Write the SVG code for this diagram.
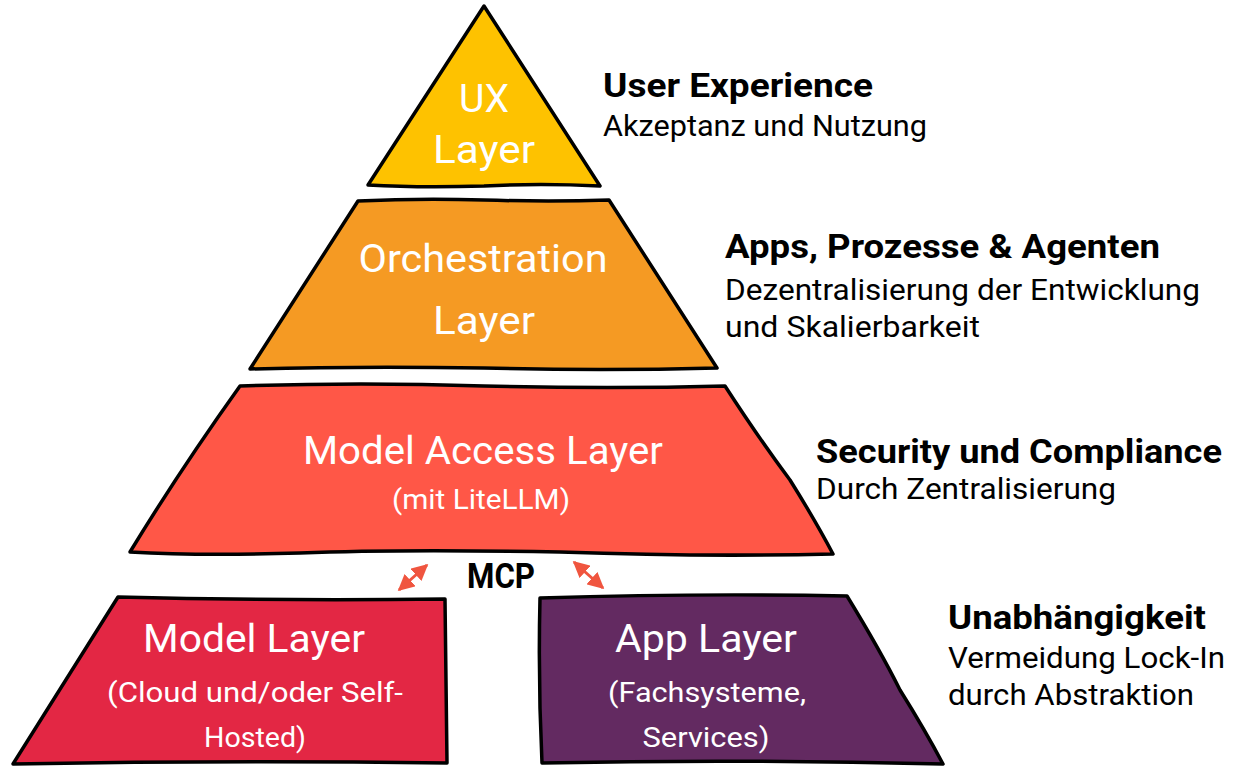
<svg xmlns="http://www.w3.org/2000/svg" width="1243" height="767" viewBox="0 0 1243 767">
<defs>
<style>
.shape{stroke:#000;stroke-width:3.5;stroke-linejoin:round;stroke-linecap:round}
.in{font-family:Roboto,"Noto Sans","Liberation Sans",sans-serif;fill:#fff;text-anchor:middle}
.h{font-family:Roboto,"Noto Sans","Liberation Sans",sans-serif;font-weight:bold;font-size:33px;fill:#000}
.s{font-family:Roboto,"Noto Sans","Liberation Sans",sans-serif;font-size:29px;fill:#000}
.big{font-size:39px}
.sm{font-size:27px}
.conn{stroke:#F0553F;stroke-width:3;fill:none}
</style>
<marker id="ah" viewBox="0 0 10 10" refX="9" refY="5" markerWidth="5.5" markerHeight="5.5" orient="auto-start-reverse" markerUnits="strokeWidth">
<path d="M0,0 L10,5 L0,10 Z" fill="#F0553F"/>
</marker>
</defs>
<rect width="1243" height="767" fill="#fff"/>

<g id="ux-layer">
<path class="shape" fill="#FEC200" d="M484,6 L600,186 Q540,183 484,186 Q420,188 368,185 Z"/>
<text class="in big" x="484" y="112" textLength="50" lengthAdjust="spacingAndGlyphs">UX</text>
<text class="in big" x="484" y="163" textLength="102" lengthAdjust="spacingAndGlyphs">Layer</text>
</g>

<g id="orchestration-layer">
<path class="shape" fill="#F59A23" d="M358,201 Q420,198 484,200 Q550,202 609,200 L717,368 Q600,371 484,368 Q360,366 250,369 Z"/>
<text class="in big" x="483" y="272" textLength="249" lengthAdjust="spacingAndGlyphs">Orchestration</text>
<text class="in big" x="484" y="334" textLength="102" lengthAdjust="spacingAndGlyphs">Layer</text>
</g>

<g id="model-access-layer">
<path class="shape" fill="#FF5747" d="M240,386 Q360,382 484,386 Q610,389 725,386 Q760,440 790,480 Q815,520 833,554 Q700,557 560,552 Q400,549 300,553 Q200,556 130,552 Q180,470 240,386 Z"/>
<text class="in big" x="483" y="464" textLength="360" lengthAdjust="spacingAndGlyphs">Model Access Layer</text>
<text class="in sm" x="481" y="509" textLength="178" lengthAdjust="spacingAndGlyphs">(mit LiteLLM)</text>
</g>

<g id="model-layer">
<path class="shape" fill="#E32744" d="M118,597 Q280,601 445,599 Q446,680 447,763 Q230,760 13,764 Z"/>
<text class="in big" x="254" y="652" textLength="222" lengthAdjust="spacingAndGlyphs">Model Layer</text>
<text class="in sm" x="255" y="702" textLength="296" lengthAdjust="spacingAndGlyphs">(Cloud und/oder Self-</text>
<text class="in sm" x="255" y="747" textLength="102" lengthAdjust="spacingAndGlyphs">Hosted)</text>
</g>

<g id="app-layer">
<path class="shape" fill="#632A61" d="M540,598 Q700,593 847,596 Q880,650 900,690 Q925,730 943,764 Q740,759 542,763 Q538,680 540,598 Z"/>
<text class="in big" x="706" y="652" textLength="182" lengthAdjust="spacingAndGlyphs">App Layer</text>
<text class="in sm" x="707" y="702" textLength="198" lengthAdjust="spacingAndGlyphs">(Fachsysteme,</text>
<text class="in sm" x="706" y="747" textLength="127" lengthAdjust="spacingAndGlyphs">Services)</text>
</g>

<g id="connectors">
<line class="conn" x1="399" y1="590" x2="427" y2="565" marker-start="url(#ah)" marker-end="url(#ah)"/>
<line class="conn" x1="574" y1="562" x2="603" y2="588" marker-start="url(#ah)" marker-end="url(#ah)"/>
<text class="h" x="501" y="588" text-anchor="middle" textLength="68" lengthAdjust="spacingAndGlyphs" style="font-size:35px">MCP</text>
</g>

<g id="descriptions">
<text class="h" x="603" y="97" textLength="270" lengthAdjust="spacingAndGlyphs">User Experience</text>
<text class="s" x="603" y="136" textLength="324" lengthAdjust="spacingAndGlyphs">Akzeptanz und Nutzung</text>
<text class="h" x="725" y="258" textLength="435" lengthAdjust="spacingAndGlyphs">Apps, Prozesse &amp; Agenten</text>
<text class="s" x="725" y="300" textLength="475" lengthAdjust="spacingAndGlyphs">Dezentralisierung der Entwicklung</text>
<text class="s" x="725" y="337" textLength="255" lengthAdjust="spacingAndGlyphs">und Skalierbarkeit</text>
<text class="h" x="816" y="463" textLength="406" lengthAdjust="spacingAndGlyphs">Security und Compliance</text>
<text class="s" x="816" y="499" textLength="300" lengthAdjust="spacingAndGlyphs">Durch Zentralisierung</text>
<text class="h" x="948" y="629" textLength="258" lengthAdjust="spacingAndGlyphs">Unabhängigkeit</text>
<text class="s" x="948" y="668" textLength="277" lengthAdjust="spacingAndGlyphs">Vermeidung Lock-In</text>
<text class="s" x="948" y="705" textLength="246" lengthAdjust="spacingAndGlyphs">durch Abstraktion</text>
</g>
</svg>
